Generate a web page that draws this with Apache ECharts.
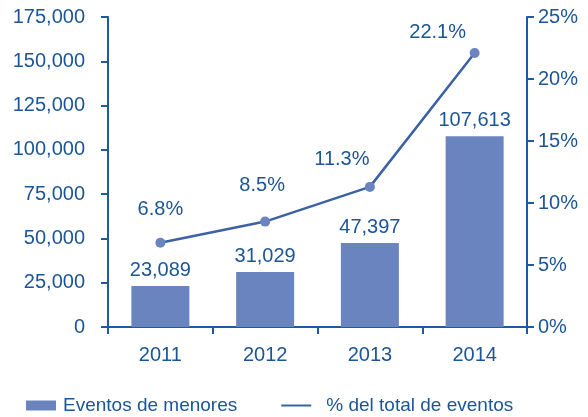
<!DOCTYPE html>
<html>
<head>
<meta charset="utf-8">
<script src="https://cdn.jsdelivr.net/npm/echarts@6/dist/echarts.min.js"></script>
<style>
html, body { margin: 0; padding: 0; background: #fff; }
#main { width: 588px; height: 417px; }
</style>
</head>
<body>
<div id="main"></div>
<script>
var years = ['2011', '2012', '2013', '2014'];
var eventos = [23089, 31029, 47397, 107613];
var porcentaje = [6.8, 8.5, 11.3, 22.1];

// desplazamiento de las etiquetas de la linea (como en el original)
var labelShift = [[0, 0], [-3, -3], [-28, 6], [-37, 13]];

var txt = '#1b5597';
var axisCol = '#1f5aa0';
var font = 'Liberation Sans, Arial, sans-serif';

var lineData = porcentaje.map(function (v, i) {
	return { value: v, label: { offset: labelShift[i] } };
});

var myChart = echarts.init(document.getElementById('main'));
var option = {
	animation: false,
	textStyle: { fontFamily: font },
	grid: { left: 108, right: 61, top: 17, bottom: 90 },
	legend: {
		top: 391,
		left: 21,
		itemGap: 44,
		itemWidth: 30,
		itemHeight: 10,
		textStyle: { color: txt, fontSize: 19, fontFamily: font },
		data: [
			{ name: 'Eventos de menores', icon: 'rect', textStyle: { padding: [0, 0, 0, 2] } },
			{
				name: '% del total de eventos',
				icon: 'path://M0,0 L30,0 L30,2 L0,2 Z',
				itemStyle: { color: '#3a62a4' },
				textStyle: { padding: [0, 0, 0, 10] }
			}
		]
	},
	xAxis: {
		type: 'category',
		data: years,
		axisLine: { lineStyle: { color: axisCol, width: 2 } },
		axisTick: { show: true, length: 7, lineStyle: { color: axisCol, width: 2 } },
		axisLabel: { color: txt, fontSize: 20, margin: 18 }
	},
	yAxis: [{
		type: 'value',
		min: 0,
		max: 175000,
		interval: 25000,
		axisLine: { show: true, lineStyle: { color: axisCol, width: 2 } },
		axisTick: { show: true, length: 7, lineStyle: { color: axisCol, width: 2 } },
		splitLine: { show: false },
		axisLabel: {
			color: txt, fontSize: 20, margin: 23,
			formatter: function (v) { return v.toLocaleString('en-US'); }
		}
	}, {
		type: 'value',
		min: 0,
		max: 25,
		interval: 5,
		position: 'right',
		axisLine: { show: true, lineStyle: { color: axisCol, width: 2 } },
		axisTick: { show: true, length: 7, lineStyle: { color: axisCol, width: 2 } },
		splitLine: { show: false },
		axisLabel: { color: txt, fontSize: 20, margin: 11, formatter: '{value}%' }
	}],
	series: [{
		name: 'Eventos de menores',
		type: 'bar',
		data: eventos,
		barWidth: 58,
		itemStyle: { color: '#6a84bf' },
		label: {
			show: true,
			position: 'top',
			distance: 6,
			color: txt,
			fontSize: 20,
			formatter: function (p) { return p.value.toLocaleString('en-US'); }
		}
	}, {
		name: '% del total de eventos',
		type: 'line',
		yAxisIndex: 1,
		data: lineData,
		symbol: 'circle',
		symbolSize: 10,
		lineStyle: { color: '#3a62a4', width: 2.5 },
		itemStyle: { color: '#6a84bf' },
		label: {
			show: true,
			position: 'top',
			distance: 18,
			color: txt,
			fontSize: 20,
			formatter: function (p) { return p.value.toFixed(1) + '%'; }
		}
	}]
};
myChart.setOption(option);
</script>
</body>
</html>
